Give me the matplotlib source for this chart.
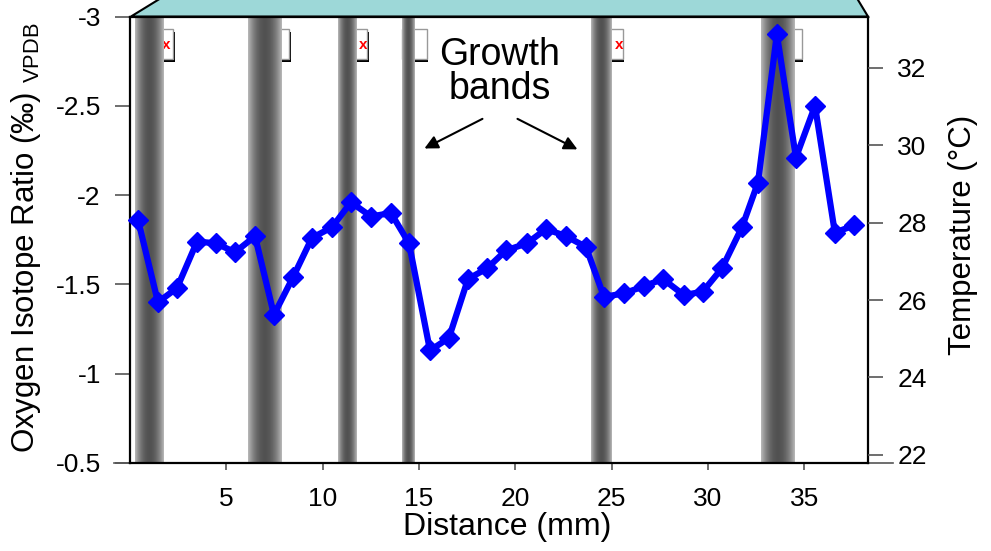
import numpy as np
import matplotlib
matplotlib.use("Agg")
import matplotlib.pyplot as plt
from matplotlib.patches import Polygon, Rectangle

plt.rcParams['font.family'] = ['Liberation Sans', 'DejaVu Sans']
plt.rcParams['mathtext.fontset'] = 'custom'
plt.rcParams['mathtext.rm'] = 'Liberation Sans'

# distance along the shell (mm) and oxygen isotope ratio (per mil VPDB)
distance = [0.42, 1.45, 2.44, 3.48, 4.46, 5.45, 6.49, 7.47, 8.46, 9.44,
            10.48, 11.47, 12.51, 13.54, 14.48, 15.57, 16.55, 17.54, 18.53, 19.51,
            20.60, 21.59, 22.63, 23.66, 24.60, 25.64, 26.68, 27.66, 28.75, 29.73,
            30.72, 31.76, 32.59, 33.57, 34.56, 35.55, 36.58, 37.57]
d18o = [-1.86, -1.40, -1.48, -1.74, -1.73, -1.68, -1.77, -1.33, -1.54, -1.76,
        -1.82, -1.96, -1.88, -1.90, -1.73, -1.13, -1.20, -1.53, -1.59, -1.69,
        -1.73, -1.81, -1.77, -1.71, -1.43, -1.45, -1.49, -1.53, -1.44, -1.46,
        -1.59, -1.82, -2.07, -2.90, -2.21, -2.50, -1.79, -1.83]

# growth bands (start, end in mm)
band_start = [0.26, 6.12, 10.79, 14.12, 23.92, 32.75]
band_end = [1.76, 7.84, 11.73, 14.79, 24.96, 34.51]

x_ticks = [5, 10, 15, 20, 25, 30, 35]
y_ticks = [-3, -2.5, -2, -1.5, -1, -0.5]
y_ticklabels = ['-3', '-2.5', '-2', '-1.5', '-1', '-0.5']
t_ticks = [22, 24, 26, 28, 30, 32]

fig = plt.figure(figsize=(9.91, 5.51), dpi=100)
W, H = 991, 551

# teal top of the "box"
trap = [(131 / W, 1 - 16.5 / H), (166 / W, 1 + 5 / H), (855 / W, 1 + 5 / H), (868 / W, 1 - 16.5 / H)]
fig.patches.append(Polygon(trap, closed=True, transform=fig.transFigure,
                           facecolor='#9dd8d8', edgecolor='black', lw=1.5, zorder=0))

ax = fig.add_axes([130 / W, 1 - 463 / H, 738 / W, 446.5 / H])

# broken picture boxes sitting behind the bands
box_right = [2.23, 8.25, 12.30, 15.41, 25.58, 34.87]
for r in box_right:
    ax.add_patch(Rectangle((r - 1.3 + 0.08, -2.76 + 0.012), 1.3, -0.168, facecolor='black',
                           edgecolor='none', zorder=1))
    ax.add_patch(Rectangle((r - 1.3, -2.76), 1.3, -0.168, facecolor='white',
                           edgecolor='#999999', lw=1, zorder=1.1))
for xr in [1.85, 12.1, 25.38]:
    ax.text(xr, -2.84, 'x', color='red', fontsize=11, fontweight='bold',
            ha='center', va='center', zorder=1.2)

# gradient bands
t = np.linspace(0, 1, 64)
grad = 0.32 + 0.40 * (2 * t - 1) ** 2
for x0, x1 in zip(band_start, band_end):
    ax.imshow(grad[np.newaxis, :], extent=(x0, x1, -0.5, -3), cmap='gray', vmin=0, vmax=1,
              aspect='auto', interpolation='bilinear', zorder=2)

ax.plot(distance, d18o, color='#0000ff', lw=4.5, marker='D', ms=10, zorder=5, clip_on=False)

ax.set_xlim(0, 38.3)
ax.set_ylim(-0.5, -3)
ax.set_xticks(x_ticks)
ax.set_yticks(y_ticks)
ax.set_yticklabels(y_ticklabels)

for s in ['left', 'right', 'top', 'bottom']:
    ax.spines[s].set_linewidth(1.6)
    ax.spines[s].set_color('black')

ax.tick_params(axis='y', direction='out', length=11, width=1.2, color='#555555', pad=10, labelsize=19)
ax.tick_params(axis='x', direction='out', length=5, width=1.2, color='#555555', pad=12, labelsize=19)
ax.plot([-0.022, 1.034], [0, 0], transform=ax.transAxes, color='#555555', lw=1.2, clip_on=False)

ax.set_ylabel('Oxygen Isotope Ratio (‰) $_{\\mathrm{VPDB}}$', fontsize=22.5)
ax.yaxis.set_label_coords(-0.118, 0.505)
ax.set_xlabel('Distance (mm)', fontsize=23)
ax.xaxis.set_label_coords(0.511, -0.11)

ax.text(19.2, -2.69, 'Growth\nbands', ha='center', va='center', fontsize=27, linespacing=0.92, zorder=6)
ax.annotate('', xy=(15.15, -2.254), xytext=(18.42, -2.434),
            arrowprops=dict(arrowstyle='-|>', color='black', lw=1.5, mutation_scale=20), zorder=6)
ax.annotate('', xy=(23.35, -2.249), xytext=(19.98, -2.434),
            arrowprops=dict(arrowstyle='-|>', color='black', lw=1.5, mutation_scale=20), zorder=6)

ax2 = ax.twinx()
ax2.set_ylim(21.79, 33.33)
ax2.set_yticks(t_ticks)
ax2.tick_params(axis='y', direction='out', length=11, width=1.2, color='#555555', pad=10, labelsize=19)
for s in ['left', 'right', 'top', 'bottom']:
    ax2.spines[s].set_visible(False)
ax2.set_ylabel('Temperature (°C)', fontsize=22.5)
ax2.yaxis.set_label_coords(1.108, 0.51)

fig.savefig('out.png', dpi=100)
